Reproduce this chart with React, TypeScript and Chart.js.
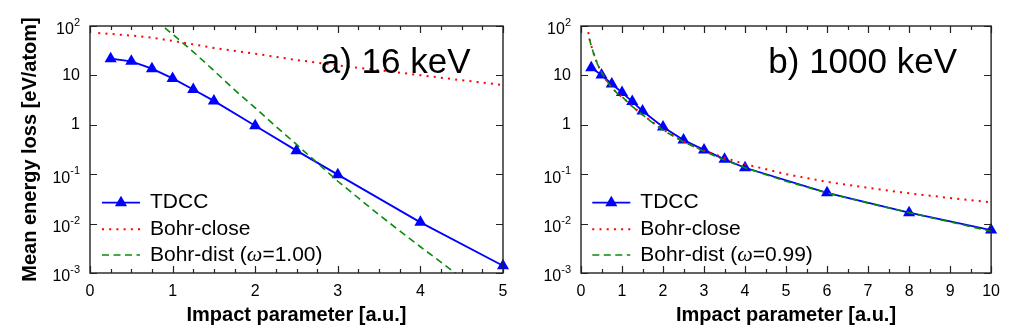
import React, { useEffect, useRef } from 'react';
import { Chart, registerables } from 'chart.js';

Chart.register(...registerables);

const FONT = "'Liberation Sans', Arial, Helvetica, sans-serif";
const SERIF = "'Liberation Serif', 'DejaVu Serif', serif";

// ---- 16 keV: impact parameter [a.u.] vs mean energy loss [eV/atom] ----
const tdcc16X = [0.25, 0.5, 0.75, 1, 1.25, 1.5, 2, 2.5, 3, 4, 5];
const tdcc16Y = [21.8, 19.3, 13.7, 8.7, 5.2, 3.05, 0.96, 0.30, 0.098, 0.0106, 0.0014];
const close16X = [0.1, 0.25, 0.5, 0.75, 1, 1.5, 2, 2.5, 3, 3.5, 4, 4.5, 5];
const close16Y = [72, 69, 64, 58, 50, 36, 27.5, 20.5, 16, 12.7, 10.1, 8, 6.4];
const dist16X = [0.8, 1, 1.25, 1.5, 1.75, 2, 2.25, 2.5, 2.75, 3, 3.5, 4, 4.5];
const dist16Y = [130, 68, 30, 12.5, 5.1, 2.2, 0.93, 0.4, 0.17, 0.072, 0.015, 0.0034, 0.0008];

// ---- 1000 keV ----
const tdcc1000X = [0.25, 0.5, 0.75, 1, 1.25, 1.5, 2, 2.5, 3, 3.5, 4, 6, 8, 10];
const tdcc1000Y = [14.3, 10.2, 6.7, 4.5, 2.95, 1.9, 0.9, 0.49, 0.31, 0.2, 0.135, 0.042, 0.0166, 0.0074];
const close1000X = [0.15, 0.2, 0.25, 0.3, 0.4, 0.5, 0.6, 0.75, 0.9, 1, 1.25, 1.5, 1.75, 2, 2.5, 3, 3.5, 4, 5, 6, 7, 8, 9, 10];
const close1000Y = [105, 58, 40, 29, 17, 11.5, 8.3, 5.7, 4.2, 3.7, 2.35, 1.6, 1.12, 0.8, 0.46, 0.3, 0.215, 0.16, 0.1, 0.07, 0.053, 0.041, 0.033, 0.027];
const dist1000X = [0.2, 0.25, 0.3, 0.4, 0.5, 0.6, 0.75, 0.9, 1, 1.25, 1.5, 1.75, 2, 2.5, 3, 3.5, 4, 5, 6, 7, 8, 9, 10];
const dist1000Y = [56, 40, 29, 17, 11.5, 8.3, 5.7, 4.2, 3.7, 2.35, 1.6, 1.1, 0.78, 0.45, 0.29, 0.195, 0.135, 0.072, 0.042, 0.026, 0.0167, 0.0108, 0.007];

// axis decades and texts
const yExponents = [2, 1, 0, -1, -2, -3];
const X_TITLE = 'Impact parameter [a.u.]';
const Y_TITLE = 'Mean energy loss [eV/atom]';
const legendLabels = ['TDCC', 'Bohr-close', 'Bohr-dist ('];

const BLUE = '#0000ff';
const RED = '#ff0000';
const GREEN = '#0a8a0a';
const RED_DASH = [2, 5.2];
const GREEN_DASH = [7, 4.5];
const MARKER_R = 7;

interface PanelSpec {
  title: string;
  omega: string;
  xMax: number;
  minorStep: number;
  tdccX: number[];
  tdccY: number[];
  closeX: number[];
  closeY: number[];
  distX: number[];
  distY: number[];
  padLeft: number;
  padRight: number;
  axisWidth: number;
  showYTitle: boolean;
  titleOffset: number;
  legendOffset: number;
}

const PANEL_A: PanelSpec = {
  title: 'a) 16 keV',
  omega: '=1.00)',
  xMax: 5,
  minorStep: 0.25,
  tdccX: tdcc16X, tdccY: tdcc16Y,
  closeX: close16X, closeY: close16Y,
  distX: dist16X, distY: dist16Y,
  padLeft: 0,
  padRight: 506,
  axisWidth: 90,
  showYTitle: true,
  titleOffset: 230.7,
  legendOffset: 12,
};

const PANEL_B: PanelSpec = {
  title: 'b) 1000 keV',
  omega: '=0.99)',
  xMax: 10,
  minorStep: 0.5,
  tdccX: tdcc1000X, tdccY: tdcc1000Y,
  closeX: close1000X, closeY: close1000Y,
  distX: dist1000X, distY: dist1000Y,
  padLeft: 500,
  padRight: 15,
  axisWidth: 81,
  showYTitle: false,
  titleOffset: 187.3,
  legendOffset: 11.3,
};

const toPoints = (xs: number[], ys: number[]) => xs.map((x, i) => ({ x, y: ys[i] }));

// Border, inward ticks, superscripted decade labels, legend and panel caption
function framePlugin(p: PanelSpec) {
  return {
    id: 'frame',
    afterDatasetsDraw(chart: any) {
      const ctx: CanvasRenderingContext2D = chart.ctx;
      const area = chart.chartArea;
      const xs = chart.scales.x;
      const ys = chart.scales.y;
      ctx.save();

      // ticks
      ctx.strokeStyle = '#222';
      ctx.lineWidth = 1.2;
      ctx.beginPath();
      const n = Math.round(p.xMax / p.minorStep);
      for (let i = 0; i <= n; i++) {
        const v = i * p.minorStep;
        const px = Math.round(xs.getPixelForValue(v)) + 0.5;
        const major = Math.abs(v - Math.round(v)) < 1e-6;
        const len = major ? 7 : 4;
        ctx.moveTo(px, area.bottom);
        ctx.lineTo(px, area.bottom - len);
        ctx.moveTo(px, area.top);
        ctx.lineTo(px, area.top + len);
      }
      for (const e of yExponents) {
        const py = Math.round(ys.getPixelForValue(Math.pow(10, e))) + 0.5;
        ctx.moveTo(area.left, py);
        ctx.lineTo(area.left + 7, py);
        ctx.moveTo(area.right, py);
        ctx.lineTo(area.right - 7, py);
      }
      ctx.stroke();

      // border
      ctx.lineWidth = 1.4;
      ctx.strokeStyle = '#222';
      ctx.strokeRect(area.left, area.top, area.right - area.left, area.bottom - area.top);

      // y decade labels
      ctx.fillStyle = '#000';
      ctx.textBaseline = 'middle';
      ctx.textAlign = 'right';
      const xr = area.left - 10;
      for (const e of yExponents) {
        const py = ys.getPixelForValue(Math.pow(10, e));
        if (e === 0 || e === 1) {
          ctx.font = `16px ${FONT}`;
          ctx.fillText(e === 0 ? '1' : '10', xr, py);
        } else {
          const exp = String(e);
          ctx.font = `11px ${FONT}`;
          const we = ctx.measureText(exp).width;
          ctx.fillText(exp, xr, py - 3);
          ctx.font = `16px ${FONT}`;
          ctx.fillText('10', xr - we, py + 4);
        }
      }

      // legend
      const rows = [area.top + 176.7, area.top + 203.3, area.top + 229];
      const sx = area.left + p.legendOffset;
      const sLen = 38;
      const tx = sx + 48;
      ctx.textAlign = 'left';
      ctx.font = `21px ${FONT}`;

      ctx.strokeStyle = BLUE;
      ctx.lineWidth = 1.8;
      ctx.setLineDash([]);
      ctx.beginPath();
      ctx.moveTo(sx, rows[0]);
      ctx.lineTo(sx + sLen, rows[0]);
      ctx.stroke();
      const r = MARKER_R;
      const cx = sx + sLen / 2;
      ctx.fillStyle = BLUE;
      ctx.beginPath();
      ctx.moveTo(cx, rows[0] - r);
      ctx.lineTo(cx + r * Math.sin(2 * Math.PI / 3), rows[0] + r / 2);
      ctx.lineTo(cx - r * Math.sin(2 * Math.PI / 3), rows[0] + r / 2);
      ctx.closePath();
      ctx.fill();

      ctx.strokeStyle = RED;
      ctx.lineWidth = 2;
      ctx.setLineDash(RED_DASH);
      ctx.beginPath();
      ctx.moveTo(sx, rows[1]);
      ctx.lineTo(sx + sLen, rows[1]);
      ctx.stroke();

      ctx.strokeStyle = GREEN;
      ctx.lineWidth = 1.6;
      ctx.setLineDash(GREEN_DASH);
      ctx.beginPath();
      ctx.moveTo(sx, rows[2]);
      ctx.lineTo(sx + sLen, rows[2]);
      ctx.stroke();
      ctx.setLineDash([]);

      ctx.fillStyle = '#000';
      ctx.fillText(legendLabels[0], tx, rows[0]);
      ctx.fillText(legendLabels[1], tx, rows[1]);
      ctx.fillText(legendLabels[2], tx, rows[2]);
      let w = ctx.measureText(legendLabels[2]).width;
      ctx.font = `italic 22px ${SERIF}`;
      ctx.fillText('ω', tx + w, rows[2]);
      w += ctx.measureText('ω').width;
      ctx.font = `21px ${FONT}`;
      ctx.fillText(p.omega, tx + w, rows[2]);

      // caption
      ctx.font = `35px ${FONT}`;
      ctx.textBaseline = 'alphabetic';
      ctx.fillText(p.title, area.left + p.titleOffset, 73);

      ctx.restore();
    },
  };
}

function buildConfig(p: PanelSpec): any {
  return {
    type: 'line',
    data: {
      datasets: [
        {
          label: 'TDCC',
          data: toPoints(p.tdccX, p.tdccY),
          borderColor: BLUE,
          backgroundColor: BLUE,
          borderWidth: 1.8,
          pointStyle: 'triangle',
          pointRadius: MARKER_R,
          pointBorderWidth: 0,
          pointBackgroundColor: BLUE,
          tension: 0,
          clip: false,
          order: 3,
        },
        {
          label: 'Bohr-close',
          data: toPoints(p.closeX, p.closeY),
          borderColor: RED,
          borderWidth: 2,
          borderDash: RED_DASH,
          pointRadius: 0,
          tension: 0,
          order: 2,
        },
        {
          label: 'Bohr-dist',
          data: toPoints(p.distX, p.distY),
          borderColor: GREEN,
          borderWidth: 1.6,
          borderDash: GREEN_DASH,
          pointRadius: 0,
          tension: 0,
          order: 1,
        },
      ],
    },
    options: {
      animation: false,
      responsive: false,
      maintainAspectRatio: false,
      devicePixelRatio: 1,
      events: [],
      layout: { padding: { left: p.padLeft, right: p.padRight, top: 26, bottom: 0 } },
      plugins: { legend: { display: false }, tooltip: { enabled: false } },
      scales: {
        x: {
          type: 'linear',
          min: 0,
          max: p.xMax,
          grid: { display: false, drawTicks: false },
          border: { display: false },
          ticks: {
            stepSize: 1,
            autoSkip: false,
            maxRotation: 0,
            padding: 9,
            color: '#000',
            font: { family: FONT, size: 16 },
          },
          title: {
            display: true,
            text: X_TITLE,
            color: '#000',
            font: { family: FONT, size: 20, weight: 'bold' },
            padding: { top: 0, bottom: 2.5 },
          },
          afterFit: (s: any) => { s.height = 57; },
        },
        y: {
          type: 'logarithmic',
          min: 1e-3,
          max: 1e2,
          grid: { display: false, drawTicks: false },
          border: { display: false },
          ticks: { display: false },
          title: {
            display: p.showYTitle,
            text: Y_TITLE,
            color: '#000',
            font: { family: FONT, size: 20, weight: 'bold' },
            padding: { top: 18, bottom: 0 },
          },
          afterFit: (s: any) => { s.width = p.axisWidth; },
        },
      },
    },
    plugins: [framePlugin(p)],
  };
}

export default function App() {
  const refA = useRef<HTMLCanvasElement>(null);
  const refB = useRef<HTMLCanvasElement>(null);

  useEffect(() => {
    const charts = [
      new Chart(refA.current as HTMLCanvasElement, buildConfig(PANEL_A)),
      new Chart(refB.current as HTMLCanvasElement, buildConfig(PANEL_B)),
    ];
    return () => charts.forEach((c) => c.destroy());
  }, []);

  const canvasStyle: React.CSSProperties = { position: 'absolute', left: 0, top: 0, display: 'block' };
  return (
    <div style={{ position: 'fixed', left: 0, top: 0, width: 1009, height: 330, background: '#fff', overflow: 'hidden' }}>
      <canvas ref={refA} width={1009} height={330} style={canvasStyle} />
      <canvas ref={refB} width={1009} height={330} style={canvasStyle} />
    </div>
  );
}
